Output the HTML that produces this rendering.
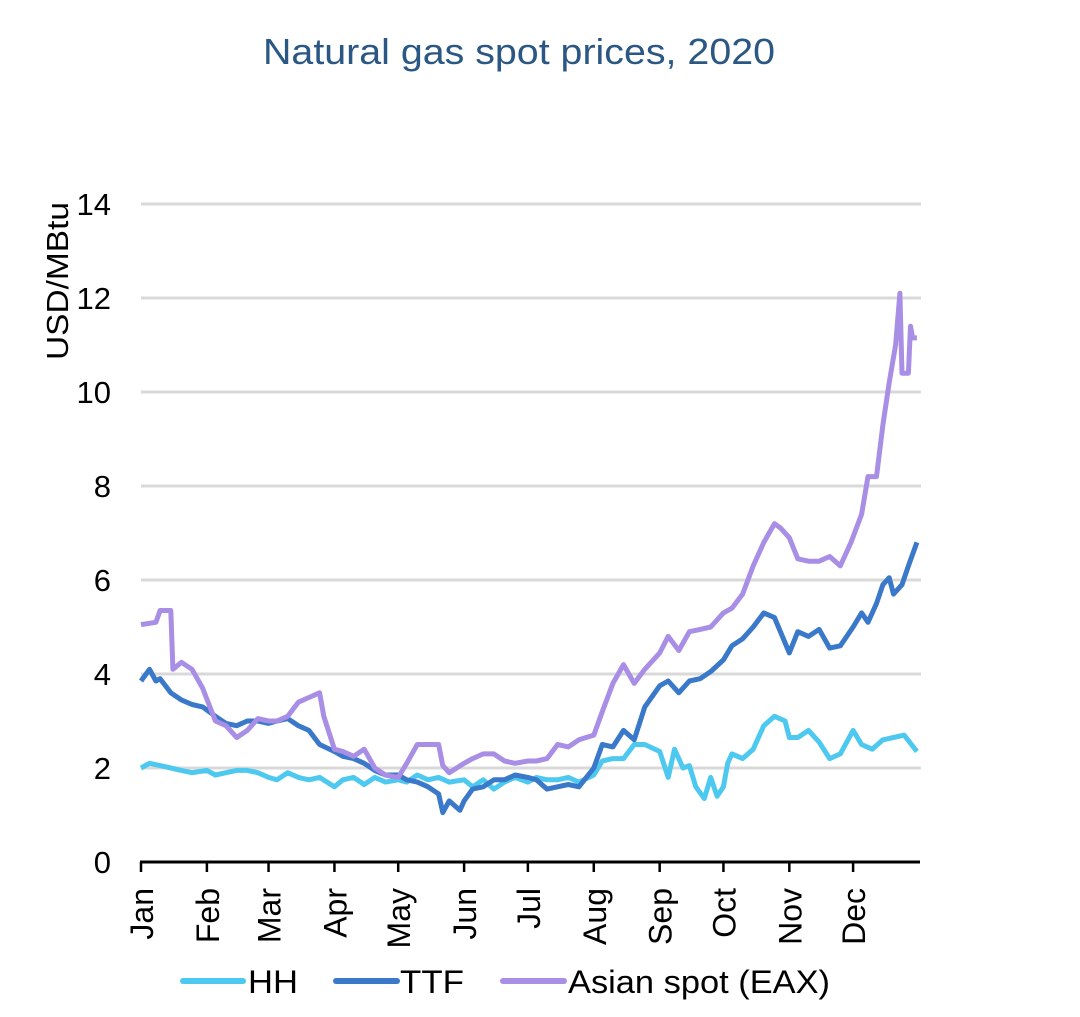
<!DOCTYPE html>
<html><head><meta charset="utf-8"><style>
body{margin:0;background:#fff;}
svg text{font-family:"Liberation Sans",sans-serif;}
</style></head><body>
<svg id="chart" width="1080" height="1012" viewBox="0 0 1080 1012" xmlns="http://www.w3.org/2000/svg">
<text x="519" y="64" text-anchor="middle" font-size="36" fill="#2a5783" textLength="512" lengthAdjust="spacingAndGlyphs">Natural gas spot prices, 2020</text>
<text transform="translate(68,281) rotate(-90)" text-anchor="middle" font-size="31" fill="#000" textLength="158" lengthAdjust="spacingAndGlyphs">USD/MBtu</text>
<g id="grid"></g><g id="series"></g><g id="axes"></g>
<g>
<line x1="183" y1="981" x2="243" y2="981" stroke="#4dc9f0" stroke-width="6" stroke-linecap="round"/>
<text x="248" y="993" font-size="32" textLength="50" lengthAdjust="spacingAndGlyphs">HH</text>
<line x1="336" y1="981" x2="397" y2="981" stroke="#3a78c9" stroke-width="6" stroke-linecap="round"/>
<text x="400" y="993" font-size="32" textLength="64" lengthAdjust="spacingAndGlyphs">TTF</text>
<line x1="503" y1="981" x2="564" y2="981" stroke="#a98ee6" stroke-width="6" stroke-linecap="round"/>
<text x="568" y="993" font-size="32" textLength="262" lengthAdjust="spacingAndGlyphs">Asian spot (EAX)</text>
</g>
</svg>
<script>
const months=["Jan","Feb","Mar","Apr","May","Jun","Jul","Aug","Sep","Oct","Nov","Dec"];
const yTicks=[0,2,4,6,8,10,12,14];
const hhDates=["01-01","01-05","01-10","01-15","01-20","01-25","02-01","02-05","02-10","02-15","02-20","02-25","03-01","03-05","03-10","03-15","03-20","03-25","04-01","04-05","04-10","04-15","04-20","04-25","05-01","05-05","05-10","05-15","05-20","05-25","06-01","06-05","06-10","06-15","06-20","06-25","07-01","07-05","07-10","07-15","07-20","07-25","08-01","08-05","08-10","08-15","08-20","08-25","09-01","09-05","09-08","09-12","09-15","09-18","09-22","09-25","09-28","10-01","10-03","10-05","10-10","10-15","10-20","10-25","10-30","11-01","11-05","11-10","11-15","11-20","11-25","12-01","12-05","12-10","12-15","12-20","12-25","12-31"];
const hhValues=[2.0,2.1,2.05,2.0,1.95,1.9,1.95,1.85,1.9,1.95,1.95,1.9,1.8,1.75,1.9,1.8,1.75,1.8,1.6,1.75,1.8,1.65,1.8,1.7,1.75,1.7,1.85,1.75,1.8,1.7,1.75,1.6,1.75,1.55,1.7,1.8,1.7,1.8,1.75,1.75,1.8,1.7,1.85,2.15,2.2,2.2,2.5,2.5,2.35,1.8,2.4,2.0,2.05,1.6,1.35,1.8,1.4,1.6,2.1,2.3,2.2,2.4,2.9,3.1,3.0,2.65,2.65,2.8,2.55,2.2,2.3,2.8,2.5,2.4,2.6,2.65,2.7,2.35];
const ttfDates=["01-01","01-05","01-08","01-10","01-15","01-20","01-25","01-30","02-05","02-10","02-15","02-20","02-25","03-01","03-05","03-10","03-15","03-20","03-25","04-01","04-05","04-10","04-15","04-20","04-25","05-01","05-05","05-10","05-15","05-20","05-22","05-25","05-30","06-01","06-05","06-10","06-15","06-20","06-25","07-01","07-05","07-10","07-15","07-20","07-25","08-01","08-05","08-10","08-15","08-20","08-25","09-01","09-05","09-10","09-15","09-20","09-25","10-01","10-05","10-10","10-15","10-20","10-25","11-01","11-05","11-10","11-15","11-20","11-25","12-01","12-05","12-08","12-12","12-15","12-18","12-20","12-24","12-27","12-31"];
const ttfValues=[3.85,4.1,3.85,3.9,3.6,3.45,3.35,3.3,3.1,2.95,2.9,3.0,3.0,2.95,3.0,3.05,2.9,2.8,2.5,2.35,2.25,2.2,2.1,1.95,1.85,1.85,1.75,1.7,1.6,1.45,1.05,1.3,1.1,1.3,1.55,1.6,1.75,1.75,1.85,1.8,1.75,1.55,1.6,1.65,1.6,2.0,2.5,2.45,2.8,2.6,3.3,3.75,3.85,3.6,3.85,3.9,4.05,4.3,4.6,4.75,5.0,5.3,5.2,4.45,4.9,4.8,4.95,4.55,4.6,5.0,5.3,5.1,5.5,5.9,6.05,5.7,5.9,6.3,6.8];
const eaxDates=["01-01","01-08","01-10","01-15","01-16","01-20","01-25","01-30","02-05","02-10","02-15","02-20","02-25","03-01","03-05","03-10","03-15","03-20","03-25","03-27","04-01","04-05","04-10","04-15","04-20","04-25","05-01","05-05","05-10","05-15","05-20","05-22","05-25","06-01","06-05","06-10","06-15","06-20","06-25","07-01","07-05","07-10","07-15","07-20","07-25","08-01","08-05","08-10","08-15","08-20","08-25","09-01","09-05","09-10","09-15","09-20","09-25","10-01","10-05","10-10","10-15","10-20","10-25","10-28","11-01","11-05","11-10","11-15","11-20","11-25","11-30","12-05","12-08","12-12","12-15","12-18","12-21","12-23","12-24","12-27","12-28","12-29","12-31"];
const eaxValues=[5.05,5.1,5.35,5.35,4.1,4.25,4.1,3.7,3.0,2.9,2.65,2.8,3.05,3.0,3.0,3.1,3.4,3.5,3.6,3.1,2.4,2.35,2.25,2.4,2.0,1.85,1.8,2.1,2.5,2.5,2.5,2.05,1.9,2.1,2.2,2.3,2.3,2.15,2.1,2.15,2.15,2.2,2.5,2.45,2.6,2.7,3.2,3.8,4.2,3.8,4.1,4.45,4.8,4.5,4.9,4.95,5.0,5.3,5.4,5.7,6.3,6.8,7.2,7.1,6.9,6.45,6.4,6.4,6.5,6.3,6.8,7.4,8.2,8.2,9.3,10.2,11.0,12.1,10.4,10.4,11.4,11.15,11.15];

const NS="http://www.w3.org/2000/svg";
const monthStart=[0,31,60,91,121,152,182,213,244,274,305,335];
const X0=141,X1=919,Y0=862,YPER=47;
function xDay(d){return X0+d/366*(X1-X0);}
function dayOf(s){const p=s.split("-");return monthStart[+p[0]-1]+(+p[1]-1);}
function yVal(v){return Y0-v*YPER;}
function mk(tag,attrs,parent){const e=document.createElementNS(NS,tag);for(const k in attrs)e.setAttribute(k,attrs[k]);parent.appendChild(e);return e;}
const grid=document.getElementById("grid"),axes=document.getElementById("axes"),ser=document.getElementById("series");
yTicks.forEach(t=>{
  if(t>0){const g=mk("line",{x1:X0,x2:X1+2,y1:yVal(t),y2:yVal(t),stroke:"#d9d9d9","stroke-width":3},grid);
  
  }
  const l=mk("text",{x:111,y:yVal(t)+11,"text-anchor":"end","font-size":31},axes);
  l.textContent=t;
  
  
});
const ax=mk("line",{x1:X0-1,x2:X1+1,y1:Y0,y2:Y0,stroke:"#000","stroke-width":3},axes);


months.forEach((m,i)=>{
  const x=xDay(monthStart[i]);
  mk("line",{x1:x,x2:x,y1:Y0,y2:Y0+10,stroke:"#000","stroke-width":2.5},axes);
  const t=mk("text",{transform:`translate(${x+12},${Y0+26}) rotate(-90)`,"text-anchor":"end","font-size":32},axes);
  t.textContent=m;
  
  
});
function draw(dates,vals,color,name){
  const pts=dates.map((d,i)=>xDay(dayOf(d)).toFixed(1)+","+yVal(vals[i]).toFixed(1)).join(" ");
  const p=mk("polyline",{points:pts,fill:"none",stroke:color,"stroke-width":5,"stroke-linejoin":"round"},ser);
  
  
}
draw(hhDates,hhValues,"#4dc9f0","hh-line");
draw(ttfDates,ttfValues,"#3a78c9","ttf-line");
draw(eaxDates,eaxValues,"#a98ee6","asian-spot-line");
</script>
</body></html>
